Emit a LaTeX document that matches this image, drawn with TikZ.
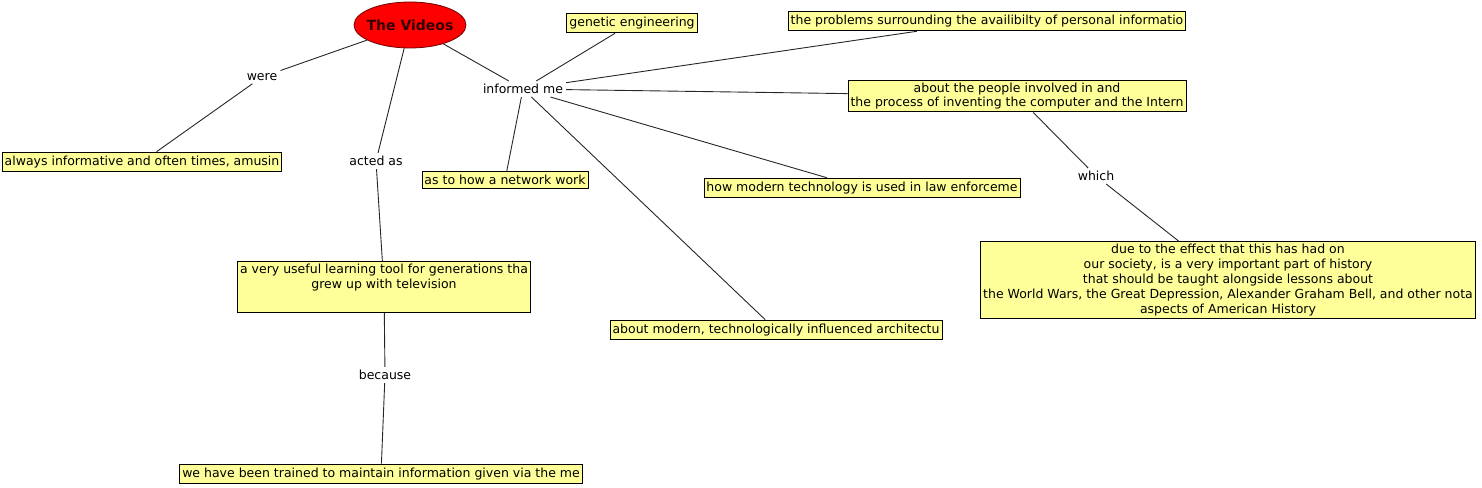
\documentclass[tikz,border=0pt]{standalone}
\usepackage{fontspec}
\setmainfont{DejaVu Sans}
\usetikzlibrary{shapes.geometric}
\definecolor{NoteYellow}{RGB}{255,255,153}
\definecolor{VideoRed}{RGB}{255,0,0}
\definecolor{VideoEdge}{RGB}{110,0,0}
\tikzset{
    concept/.style={draw=black,fill=NoteYellow,line width=0.9pt,inner xsep=2.5pt,inner ysep=3.8pt,font=\fontsize{12.5}{14.8}\selectfont},
    linkword/.style={inner sep=3pt,font=\fontsize{12.5}{14.8}\selectfont},
    topic/.style={ellipse,draw=VideoEdge,fill=VideoRed,line width=0.8pt,minimum width=112pt,minimum height=46pt,inner sep=0pt,font=\fontsize{14}{16}\selectfont\bfseries,text=black!80!red},
    link/.style={line width=0.9pt,black!85}
}
\begin{document}
\begin{tikzpicture}[x=1pt,y=-1pt]
\useasboundingbox (0,0) rectangle (1482,487);

				% main topic
				\node[topic] (videos) at (410,25) {\makebox[0pt]{The Videos}};
				
				% link words
				\node[linkword] (were) at (262,77) {were};
				\node[linkword] (acted) at (376,161) {acted as};
				\node[linkword] (informed) at (523,89) {informed me};
				\node[linkword] (which) at (1096,176) {which};
				\node[linkword] (because) at (385,375) {because};
				
				% concepts
				\node[concept] (genetic) at (632,23) {genetic engineering};
				\node[concept] (problems) at (987,21) {the problems surrounding the availibilty of personal informatio};
				\node[concept,align=center,inner ysep=2.5pt] (people) at (1017,96) {about the people involved in and\\the process of inventing the computer and the Intern};
				\node[concept] (amusing) at (142,162) {always informative and often times, amusin};
				\node[concept] (network) at (505,180) {as to how a network work};
				\node[concept] (law) at (862,188) {how modern technology is used in law enforceme};
				\node[concept,align=center,inner ysep=2.5pt] (history) at (1228,280) {due to the effect that this has had on\\our society, is a very important part of history\\that should be taught alongside lessons about\\the World Wars, the Great Depression, Alexander Graham Bell, and other nota\\aspects of American History};
				\node[concept,align=center,inner ysep=2.5pt,text depth=21pt] (tool) at (384,287) {a very useful learning tool for generations tha\\grew up with television};
				\node[concept] (architecture) at (776,330) {about modern, technologically influenced architectu};
				\node[concept] (media) at (381,474) {we have been trained to maintain information given via the me};
				
				% connections
				\draw[link] (videos) -- (were) -- (amusing);
				\draw[link] (videos) -- (acted) -- (tool);
				\draw[link] (tool) -- (because) -- (media);
				\draw[link] (videos) -- (informed);
				\draw[link] (informed) -- (genetic);
				\draw[link] (informed) -- (problems);
				\draw[link] (informed) -- (people);
				\draw[link] (informed) -- (network);
				\draw[link] (informed) -- (law);
				\draw[link] (informed) -- (architecture);
				\draw[link] (people) -- (which) -- (history);
\end{tikzpicture}
\end{document}
